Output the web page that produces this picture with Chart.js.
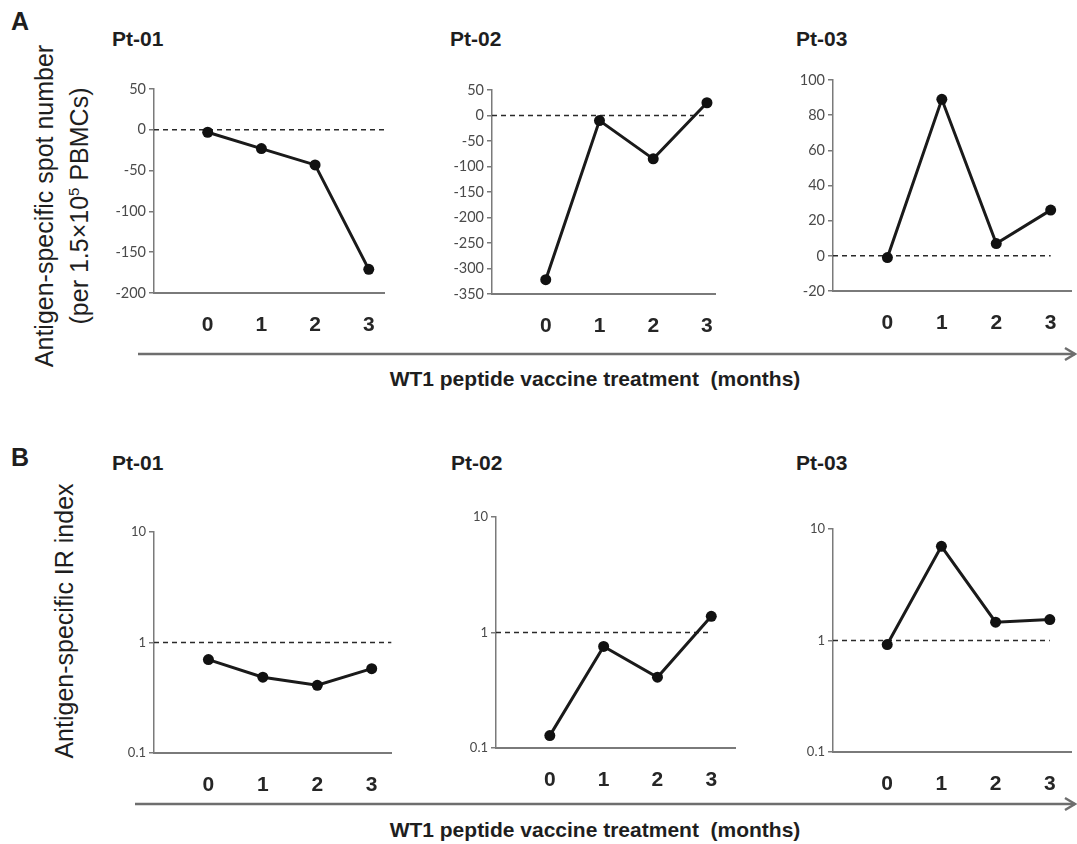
<!DOCTYPE html>
<html>
<head>
<meta charset="utf-8">
<script src="https://cdn.jsdelivr.net/npm/chart.js@4.4.0/dist/chart.umd.min.js"></script>
<style>
    html, body { margin: 0; padding: 0; background: #fff; }
    #page { position: relative; width: 1077px; height: 844px; overflow: hidden;
            font-family: "Liberation Sans", Arial, sans-serif; color: #1e1e1e; }
    .box { position: absolute; }
    .txt { position: absolute; white-space: nowrap; line-height: 1; }
    .b { font-weight: bold; }
    .rot { transform: translate(-50%, -50%) rotate(-90deg); }
    .ctr { transform: translate(-50%, -50%); }
    sup { font-size: 15px; vertical-align: 9px; line-height: 0; }
</style>
</head>
<body>
<div id="page">
    <div class="txt b" style="left:11px;top:9px;font-size:25px">A</div>
    <div class="txt b" style="left:11px;top:445px;font-size:25px">B</div>

    <div class="txt b" style="left:112px;top:28px;font-size:21px">Pt-01</div>
    <div class="txt b" style="left:450px;top:28px;font-size:21px">Pt-02</div>
    <div class="txt b" style="left:796px;top:28px;font-size:21px">Pt-03</div>
    <div class="txt b" style="left:112px;top:452px;font-size:21px">Pt-01</div>
    <div class="txt b" style="left:451px;top:452px;font-size:21px">Pt-02</div>
    <div class="txt b" style="left:796px;top:452px;font-size:21px">Pt-03</div>

    <div class="txt rot" style="left:44px;top:206px;font-size:25px">Antigen-specific spot number</div>
    <div class="txt rot" style="left:79px;top:206px;font-size:25px">(per 1.5×10<sup>5</sup> PBMCs)</div>
    <div class="txt rot" style="left:64px;top:621px;font-size:25px">Antigen-specific IR index</div>

    <div class="txt b ctr" style="left:595px;top:378px;font-size:21px">WT1 peptide vaccine treatment&nbsp; (months)</div>
    <div class="txt b ctr" style="left:595px;top:829px;font-size:21px">WT1 peptide vaccine treatment&nbsp; (months)</div>

    <svg class="box" style="left:0;top:0" width="1077" height="844">
        <g stroke="#6e6e6e" stroke-width="2.5" fill="none">
            <line x1="138" y1="354" x2="1075" y2="354"/>
            <polyline points="1065,348 1075,354 1065,360"/>
            <line x1="135" y1="804" x2="1075" y2="804"/>
            <polyline points="1065,798 1075,804 1065,810"/>
        </g>
    </svg>
</div>

<script>
// months after start of WT1 vaccine
const months = [0, 1, 2, 3]

// A: antigen-specific spot number
const spotPt01 = [-3, -23, -43, -171]
const spotPt02 = [-322, -10, -85, 25]
const spotPt03 = [-1, 89, 7, 26]
const spotTicks01 = [-200, -150, -100, -50, 0, 50]
const spotTicks02 = [-350, -300, -250, -200, -150, -100, -50, 0, 50]
const spotTicks03 = [-20, 0, 20, 40, 60, 80, 100]
const spotBaseline = 0

// B: antigen-specific IR index (log)
const irPt01 = [0.70, 0.485, 0.41, 0.58]
const irPt02 = [0.128, 0.757, 0.41, 1.38]
const irPt03 = [0.92, 7.0, 1.46, 1.54]
const irTicks = [0.1, 1, 10]
const irBaseline = 1

Chart.defaults.font.family = "Lato, 'Liberation Sans', sans-serif"
Chart.defaults.animation = false

const Y_W = 60
const X_H = 50
const PAD_T = 14

// dashed reference line
const refLine = {
    id: 'refLine',
    beforeDatasetsDraw(chart, args, opts) {
        const {ctx, chartArea, scales} = chart
        const y = scales.y.getPixelForValue(opts.value)
        const xEnd = opts.toLast ? scales.x.getPixelForValue(months[months.length - 1]) : chartArea.right
        ctx.save()
        ctx.setLineDash([5, 4])
        ctx.lineWidth = 1.5
        ctx.strokeStyle = '#2a2a2a'
        ctx.beginPath()
        ctx.moveTo(chartArea.left, y)
        ctx.lineTo(xEnd, y)
        ctx.stroke()
        ctx.restore()
    }
}

function makeChart(pos, values, yType, yTicks, baseline, toLast, tickSize) {
    const div = document.createElement('div')
    div.className = 'box'
    const left = pos.axisX - Y_W
    const top = pos.top - PAD_T
    const w = pos.right - left
    const h = pos.bottom - pos.top + PAD_T + X_H
    div.style.left = left + 'px'
    div.style.top = top + 'px'
    const canvas = document.createElement('canvas')
    canvas.width = w
    canvas.height = h
    canvas.style.width = w + 'px'
    canvas.style.height = h + 'px'
    div.appendChild(canvas)
    document.getElementById('page').appendChild(div)

    return new Chart(canvas, {
        type: 'line',
        data: {
            datasets: [{
                data: months.map((m, i) => ({x: m, y: values[i]})),
                borderColor: '#1a1a1a',
                borderWidth: 3,
                pointRadius: 5.5,
                pointBackgroundColor: '#111',
                pointBorderWidth: 0,
                tension: 0,
                clip: false
            }]
        },
        options: {
            responsive: false,
            maintainAspectRatio: false,
            layout: { padding: { top: PAD_T, right: 0, left: 0, bottom: 0 } },
            plugins: {
                legend: { display: false },
                tooltip: { enabled: false },
                refLine: { value: baseline, toLast: toLast }
            },
            scales: {
                x: {
                    type: 'linear',
                    min: -1,
                    max: pos.xMax,
                    afterBuildTicks: s => { s.ticks = months.map(v => ({value: v})) },
                    afterFit: s => { s.height = X_H },
                    grid: { display: false, drawTicks: false },
                    border: { display: true, color: '#7a7a7a', width: 2 },
                    ticks: {
                        padding: 20,
                        color: '#262626',
                        font: { family: "'Liberation Sans', Arial, sans-serif", size: 21, weight: 'bold' }
                    }
                },
                y: {
                    type: yType,
                    min: yTicks[0],
                    max: yTicks[yTicks.length - 1],
                    afterBuildTicks: s => { s.ticks = yTicks.map(v => ({value: v})) },
                    afterFit: s => { s.width = Y_W },
                    grid: { display: true, drawOnChartArea: false, drawTicks: true, tickLength: 5, color: '#7a7a7a', lineWidth: 1.5 },
                    border: { display: true, color: '#7a7a7a', width: 1.5 },
                    ticks: {
                        padding: 3,
                        color: '#4a4a4a',
                        font: { size: tickSize },
                        callback: v => String(v)
                    }
                }
            }
        },
        plugins: [refLine]
    })
}

makeChart({axisX: 154, top: 89, bottom: 293, right: 395, xMax: 3.3}, spotPt01, 'linear', spotTicks01, spotBaseline, false, 14.5)
makeChart({axisX: 492, top: 90, bottom: 294, right: 733, xMax: 3.15}, spotPt02, 'linear', spotTicks02, spotBaseline, true, 14.5)
makeChart({axisX: 833, top: 80, bottom: 291, right: 1077, xMax: 3.38}, spotPt03, 'linear', spotTicks03, spotBaseline, true, 14.5)
makeChart({axisX: 154, top: 532, bottom: 753, right: 398, xMax: 3.36}, irPt01, 'logarithmic', irTicks, irBaseline, false, 13)
makeChart({axisX: 496, top: 517, bottom: 748, right: 741, xMax: 3.45}, irPt02, 'logarithmic', irTicks, irBaseline, true, 13)
makeChart({axisX: 833, top: 529, bottom: 752, right: 1077, xMax: 3.4}, irPt03, 'logarithmic', irTicks, irBaseline, true, 13)
</script>
</body>
</html>
